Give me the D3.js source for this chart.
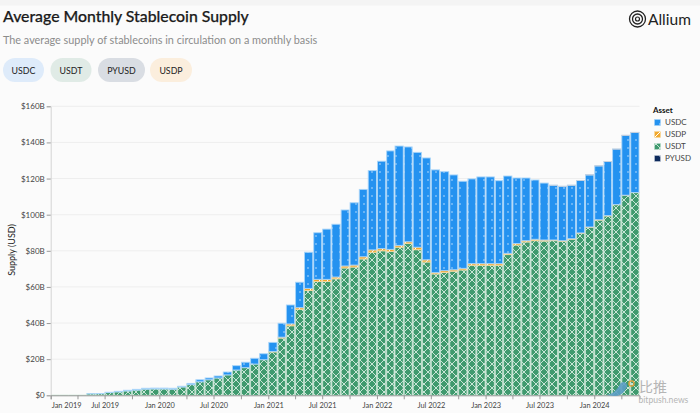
<!DOCTYPE html>
<html><head><meta charset="utf-8">
<script src="https://cdn.jsdelivr.net/npm/d3@7"></script>
<style>
html,body{margin:0;padding:0;background:#fbfbfb;overflow:hidden}
svg{display:block}
text{font-family:Lato,"Noto Sans",sans-serif}
</style></head><body><div id="c"></div>
<script>
const title="Average Monthly Stablecoin Supply";
const subtitle="The average supply of stablecoins in circulation on a monthly basis";
const assets=["USDT","USDP","USDC","PYUSD"];
const legendOrder=["USDC","USDP","USDT","PYUSD"];
const chipNames=["USDC","USDT","PYUSD","USDP"];
const yTicks=[0,20,40,60,80,100,120,140,160];
const firstMonth="2019-01";
const usdt=[0.05,0.05,0.05,0.05,0.8,0.9,1.5,1.9,2.4,2.9,3.4,3.5,3.5,3.4,4.6,5.9,7.5,8.6,9.6,11.3,14,15.3,17.3,19.7,24,31.7,38.5,47.6,58,63,63,64.5,70.5,71,75.5,79.2,80,79.7,82,84,80.6,73.8,67.2,68,68.7,69.4,72,72,72,72,77.9,83.2,84.9,85.6,85.4,85.6,85.3,86.4,89.7,93,97,99.3,105.5,110.7,112.2];
const usdp=[0,0,0,0,0,0,0,0,0,0,0,0,0,0,0,0,0,0,0,0,0,0,0,0,0.3,0.5,1,0.9,1.2,1.2,1.2,1,1.1,1.1,1.2,1.3,1.2,1.1,1,1,1.4,1.2,0.7,1,0.8,0.9,0.9,0.9,0.9,0.9,0.7,0.8,0.7,0.8,0.6,0.4,0.3,0.3,0.2,0.2,0.2,0.2,0.1,0.1,0.1];
const usdc=[0,0,0,0,0.1,0.1,0.2,0.3,0.4,0.4,0.5,0.5,0.5,0.5,0.4,0.7,1.1,1,1.1,1.6,2.4,3,3.2,3.3,5,7.7,10.5,14.1,20,25.8,27.8,29.2,31,34.5,37.3,43.9,48.4,54.5,55,52.5,52.5,56.4,56.9,54.8,52.5,48.2,46.9,48,48,45.9,42.8,36.3,34.7,32.8,31.5,30.3,30.1,29.6,29,28.8,29.8,29.9,30.7,33.1,33.2];
const pyusd=[0,0,0,0,0,0,0,0,0,0,0,0,0,0,0,0,0,0,0,0,0,0,0,0,0,0,0,0,0,0,0,0,0,0,0,0,0,0,0,0,0,0,0,0,0,0,0,0,0,0,0,0,0,0,0,0.02,0.03,0.03,0.05,0.05,0.05,0.06,0.06,0.08,0.08];
const colors={USDC:"#2492f0",USDP:"#f2a92e",USDT:"#3f9a6e",PYUSD:"#0d2a5c"};
const strokes={USDC:"#a9d5f9",USDP:"#f7d9a0",USDT:"#bcdecb",PYUSD:"#c9d2de"};
const chipColors={USDC:"#deebfa",USDT:"#e0ebe6",PYUSD:"#d9dde3",USDP:"#fbeedd"};

const start=d3.timeParse("%Y-%m")(firstMonth);
const months=usdt.map((_,i)=>d3.timeMonth.offset(start,i));
const rows=months.map((m,i)=>({month:m,USDT:usdt[i],USDP:usdp[i],USDC:usdc[i],PYUSD:pyusd[i]}));
const W=700,H=413,L=50.7,R=639.5,T=106.3,B=395.3;
const x=d3.scaleTime().domain([start,d3.timeMonth.offset(start,65)]).range([L,R]);
const y=d3.scaleLinear().domain([0,160]).range([B,T]);
const svg=d3.select("#c").append("svg").attr("width",W).attr("height",H);
svg.append("rect").attr("width",W).attr("height",5.5).attr("fill","#f4f4f4");

const defs=svg.append("defs");
function pat(id,color,draw){
  const p=defs.append("pattern").attr("id",id).attr("patternUnits","userSpaceOnUse")
    .attr("width",8).attr("height",8);
  p.append("rect").attr("width",8).attr("height",8).attr("fill",color);
  draw(p);
}
const dots=p=>p.append("circle").attr("cx",4).attr("cy",4).attr("r",0.7).attr("fill","#e4f2ff");
pat("p-USDC",colors.USDC,dots);
pat("p-PYUSD",colors.PYUSD,dots);
pat("p-USDP",colors.USDP,p=>p.append("path").attr("d","M0,8L8,0").attr("stroke","#fff").attr("stroke-width",1));
pat("p-USDT",colors.USDT,p=>p.append("path").attr("d","M0,0L8,8M8,0L0,8").attr("stroke","#cfe8da").attr("stroke-width",0.95));

// header
const sansHead="Lato";
svg.append("text").attr("x",3).attr("y",22).text(title).attr("font-size",15.8).attr("font-weight",500).attr("fill","#1c1c1c").attr("stroke","#1c1c1c").attr("stroke-width",0.25).style("font-family",sansHead);
svg.append("text").attr("x",3).attr("y",43.5).text(subtitle).attr("font-size",10.85).attr("fill","#8c8c8c").style("font-family",sansHead);
const chipX=[[3,41],[50.5,41],[98,47],[150,42]];
chipNames.forEach((n,i)=>{
  const g=svg.append("g");
  g.append("rect").attr("x",chipX[i][0]).attr("y",58).attr("width",chipX[i][1]).attr("height",24).attr("rx",12).attr("fill",chipColors[n]);
  g.append("text").attr("x",chipX[i][0]+chipX[i][1]/2).attr("y",73.5).attr("text-anchor","middle").attr("font-size",8.8).attr("fill","#222").text(n);
});
// logo
const logo=svg.append("g").attr("fill","none").attr("stroke","#222");
[[8,1.3],[5,1.3],[2,1.2]].forEach(([r,w])=>logo.append("circle").attr("cx",637.5).attr("cy",19).attr("r",r).attr("stroke-width",w));
svg.append("text").attr("x",648).attr("y",24.5).text("Allium").attr("font-size",15.5).attr("fill","#222");

// grid
svg.append("g").selectAll("line").data(yTicks.slice(1)).join("line")
  .attr("x1",L).attr("x2",R).attr("y1",d=>y(d)).attr("y2",d=>y(d)).attr("stroke","#eeeeee").attr("stroke-width",1);

// bars
const series=d3.stack().keys(assets)(rows);
svg.append("g").selectAll("g").data(series).join("g").each(function(s){
  d3.select(this).selectAll("rect").data(s).join("rect")
   .attr("x",d=>x(d.data.month)+0.5)
   .attr("width",d=>x(d3.timeMonth.offset(d.data.month,1))-x(d.data.month)-1)
   .attr("y",d=>y(d[1]))
   .attr("height",d=>Math.max(0,y(d[0])-y(d[1])))
   .attr("fill",`url(#p-${s.key})`)
   .attr("stroke",d=>d[1]>d[0]?strokes[s.key]:"none").attr("stroke-width",0.9);
});

// axes
const ya=svg.append("g").attr("transform",`translate(${L},0)`)
  .call(d3.axisLeft(y).tickValues(yTicks).tickFormat(d=>`$${d}${d?"B":""}`).tickSize(4).tickPadding(2));
ya.select(".domain").attr("stroke","#d4d4d4");
ya.selectAll(".tick line").attr("stroke","#999");
ya.selectAll("text").attr("font-size",8).attr("fill","#444");
const xTicks=months.filter((m,i)=>i%3===0);
const xa=svg.append("g").attr("transform",`translate(0,${B})`)
  .call(d3.axisBottom(x).tickValues(xTicks).tickFormat(d=>d.getMonth()%6===0?d3.timeFormat("%b %Y")(d):"").tickSize(4).tickPadding(3));
xa.select(".domain").attr("stroke","#999");
xa.selectAll(".tick line").attr("stroke","#999");
xa.selectAll("text").attr("font-size",7.4).attr("fill","#444");
xa.select(".tick text").attr("text-anchor","start").attr("dx",0.5);
svg.append("text").attr("transform","translate(15,250) rotate(-90)").attr("text-anchor","middle").attr("font-size",9).attr("fill","#222").text("Supply (USD)");

// legend
svg.append("text").attr("x",653).attr("y",113).text("Asset").attr("font-size",8).attr("font-weight",700).attr("fill","#111");
legendOrder.forEach((n,i)=>{
  const ly=122.5+i*12;
  svg.append("rect").attr("x",654.5).attr("y",ly-3).attr("width",6).attr("height",6).attr("fill",`url(#p-${n})`).attr("stroke",strokes[n]).attr("stroke-width",0.5);
  svg.append("text").attr("x",665).attr("y",ly+2.8).text(n).attr("font-size",8).attr("fill","#444");
});

// watermark
const wm=svg.append("g");
wm.append("path").attr("d","M606,395 C614,394 616,390 619,386 C620,382 624,381 626,383 C628,385 627,388 625,390 C623,394 619,396 614,396 Z").attr("fill","#5c9dc4").attr("opacity",0.9);
wm.append("circle").attr("cx",631.5).attr("cy",383.5).attr("r",2.6).attr("fill","none").attr("stroke","#e9a23b").attr("stroke-width",1.2);
wm.append("text").attr("x",639).attr("y",392).text("比推").attr("font-size",14).attr("fill","#b5b5b5").style("font-family","'Noto Sans CJK SC'");
wm.append("text").attr("x",638.5).attr("y",403).text("bitpush.news").attr("font-size",8.6).attr("fill","#b5b5b5");
</script></body></html>
